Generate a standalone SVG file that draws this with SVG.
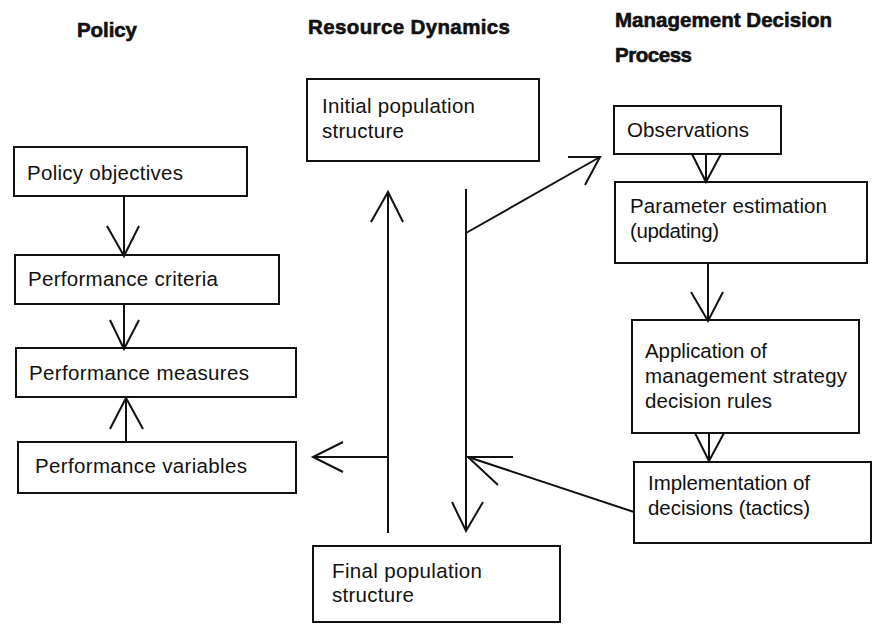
<svg xmlns="http://www.w3.org/2000/svg" width="873" height="624" viewBox="0 0 873 624">
<style>
.box{fill:#fff;stroke:#111;stroke-width:2}
.t{font-family:"Liberation Sans",Arial,sans-serif;font-size:20.5px;fill:#111}
.h{font-family:"Liberation Sans",Arial,sans-serif;font-size:20.5px;font-weight:bold;fill:#111;stroke:#111;stroke-width:0.6}
.c{fill:none;stroke:#111;stroke-width:2;stroke-linejoin:miter;stroke-linecap:butt}
</style>
<rect width="873" height="624" fill="#fff"/>
<g id="headers">
<text class="h" x="77" y="37" textLength="60">Policy</text>
<text class="h" x="308" y="34" textLength="202">Resource Dynamics</text>
<text class="h" x="615" y="27" textLength="217">Management Decision</text>
<text class="h" x="615" y="62" textLength="77">Process</text>
</g>
<g id="policy-objectives">
<rect class="box" x="14" y="147" width="233" height="49"/>
<text class="t" x="27" y="180" textLength="156">Policy objectives</text>
</g>
<g id="performance-criteria">
<rect class="box" x="15" y="255" width="264" height="49"/>
<text class="t" x="28" y="286" textLength="190">Performance criteria</text>
</g>
<g id="performance-measures">
<rect class="box" x="16" y="348" width="280" height="49"/>
<text class="t" x="29" y="380" textLength="220">Performance measures</text>
</g>
<g id="performance-variables">
<rect class="box" x="18" y="442" width="278" height="51"/>
<text class="t" x="35" y="473" textLength="212">Performance variables</text>
</g>
<g id="initial-population">
<rect class="box" x="307" y="79" width="232" height="82"/>
<text class="t" x="322" y="113" textLength="153">Initial population</text>
<text class="t" x="322" y="138" textLength="82">structure</text>
</g>
<g id="observations">
<rect class="box" x="614" y="106" width="167" height="48"/>
<text class="t" x="627" y="137" textLength="122">Observations</text>
</g>
<g id="parameter-estimation">
<rect class="box" x="615" y="182" width="252" height="81"/>
<text class="t" x="630" y="213" textLength="197">Parameter estimation</text>
<text class="t" x="630" y="238" textLength="89">(updating)</text>
</g>
<g id="application">
<rect class="box" x="632" y="320" width="227" height="113"/>
<text class="t" x="645" y="358" textLength="122">Application of</text>
<text class="t" x="645" y="383" textLength="202">management strategy</text>
<text class="t" x="645" y="408" textLength="127">decision rules</text>
</g>
<g id="implementation">
<rect class="box" x="634" y="462" width="237" height="81"/>
<text class="t" x="648" y="490" textLength="162">Implementation of</text>
<text class="t" x="648" y="515" textLength="162">decisions (tactics)</text>
</g>
<g id="final-population">
<rect class="box" x="313" y="546" width="247" height="76"/>
<text class="t" x="332" y="578" textLength="150">Final population</text>
<text class="t" x="332" y="602" textLength="82">structure</text>
</g>
<g id="connectors">
<line class="c" x1="124" y1="196" x2="124" y2="256"/>
<polyline class="c" points="107,226 124,256 139,226"/>
<line class="c" x1="124" y1="304" x2="124" y2="349"/>
<polyline class="c" points="110,320 124,349 139,320"/>
<line class="c" x1="126" y1="442" x2="126" y2="398"/>
<polyline class="c" points="110,429 126,398 143,429"/>
<line class="c" x1="388" y1="533" x2="388" y2="192"/>
<polyline class="c" points="371,222 388,192 403,222"/>
<line class="c" x1="388" y1="457" x2="313" y2="457"/>
<polyline class="c" points="343,442 313,457 343,472"/>
<line class="c" x1="466" y1="189" x2="466" y2="531"/>
<polyline class="c" points="452,502 466,531 483,502"/>
<line class="c" x1="466" y1="233" x2="600" y2="157"/>
<polyline class="c" points="568,157 600,157 585,185"/>
<line class="c" x1="634" y1="512" x2="468" y2="457"/>
<polyline class="c" points="513,457 468,457 498,485"/>
<line class="c" x1="706" y1="154" x2="706" y2="182"/>
<polyline class="c" points="692,154 706,182 721,154"/>
<line class="c" x1="708" y1="263" x2="708" y2="321"/>
<polyline class="c" points="691,292 708,321 723,292"/>
<line class="c" x1="709" y1="433" x2="709" y2="461"/>
<polyline class="c" points="695,433 709,461 724,433"/>
</g>
</svg>
